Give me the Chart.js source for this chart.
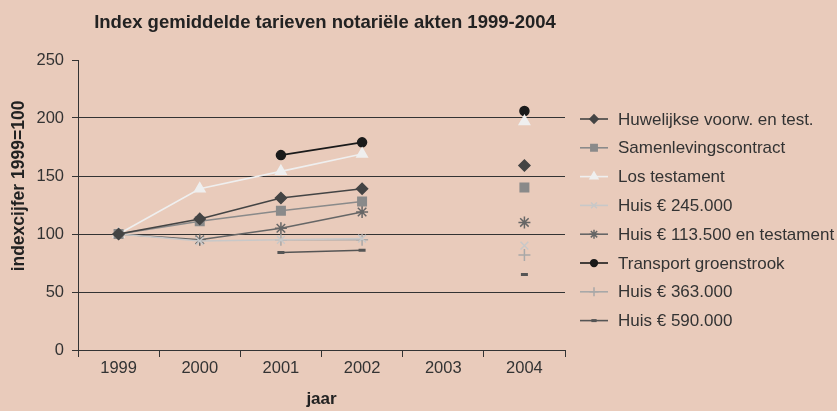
<html>
  <head>
    <title>Index notariële akten</title>
    <script type="text/javascript" src="https://cdn.jsdelivr.net/npm/chart.js@4.4.1/dist/chart.umd.min.js"></script>
    <style>
      body { margin: 0; background: #e9cbbb; }
    </style>
  </head>
  <body>
    <canvas id="IndexChart" width="837" height="411" style="display: block;"></canvas>
    <script>
      // jaren en indexcijfers (1999 = 100)
      var years = ['1999', '2000', '2001', '2002', '2003', '2004'];
      var huwelijkse = [100, 113, 131, 139, null, 159];
      var samenleving = [100, 111, 120, 128, null, 140];
      var losTestament = [100, 139, 154, 169, null, 197];
      var huis245 = [100, 94, 95, 96, null, 90];
      var huis113 = [100, 95, 105, 119, null, 110];
      var transport = [null, null, 168, 179, null, 206];
      var huis363 = [null, null, 95, 95, null, 82];
      var huis590 = [null, null, 84, 86, null, 65];
      var yTicks = [0, 50, 100, 150, 200, 250];

      var chartTitle = 'Index gemiddelde tarieven notariële akten 1999-2004';
      var yTitle = 'indexcijfer 1999=100';

      var textColor = '#333';
      var fontFamily = "'Liberation Sans', Arial, sans-serif";
      Chart.defaults.font.family = fontFamily;
      Chart.defaults.color = textColor;

      function serie(label, data, color, style, radius, extra) {
        var ds = {
          label: label,
          data: data,
          borderColor: color,
          backgroundColor: color,
          pointBackgroundColor: color,
          pointBorderColor: color,
          pointStyle: style,
          pointRadius: radius,
          pointHoverRadius: radius,
          pointBorderWidth: 1.5,
          borderWidth: 1.6,
          tension: 0
        };
        for (var k in extra) ds[k] = extra[k];
        return ds;
      }

      // background, title, y title and the legend with line + marker samples
      var paperPlugin = {
        id: 'paper',
        beforeDraw: function(chart) {
          var c = chart.ctx;
          c.save();
          c.fillStyle = '#e9cbbb';
          c.fillRect(0, 0, chart.width, chart.height);
          c.restore();
        },
        afterDraw: function(chart) {
          var c = chart.ctx;
          c.save();
          c.fillStyle = '#222';
          c.textAlign = 'center';
          c.textBaseline = 'middle';
          c.font = 'bold 18.5px ' + fontFamily;
          c.fillText(chartTitle, 325, 23);

          c.translate(19, 186);
          c.rotate(-Math.PI / 2);
          c.font = 'bold 17.5px ' + fontFamily;
          c.fillText(yTitle, 0, 0);
          c.restore();

          c.save();
          chart.data.datasets.forEach(function(ds, i) {
            var y = 119 + i * 28.8;
            c.strokeStyle = ds.borderColor;
            c.lineWidth = 1.6;
            c.beginPath();
            c.moveTo(580, y);
            c.lineTo(608, y);
            c.stroke();
            c.fillStyle = ds.pointBackgroundColor;
            c.strokeStyle = ds.pointBorderColor;
            c.lineWidth = ds.pointBorderWidth;
            Chart.helpers.drawPoint(c, {pointStyle: ds.pointStyle, radius: ds.pointRadius * 0.75, borderWidth: ds.pointBorderWidth, rotation: 0}, 594, y);
            c.fillStyle = textColor;
            c.font = '17px ' + fontFamily;
            c.textBaseline = 'middle';
            c.fillText(ds.label, 618, y + 1);
          });
          c.restore();
        }
      };

      var ctx = document.getElementById('IndexChart').getContext('2d');
      var chart = new Chart(ctx, {
        type: 'line',
        data: {
          labels: years,
          datasets: [
            serie('Huwelijkse voorw. en test.', huwelijkse, '#444444', 'rectRot', 5.5),
            serie('Samenlevingscontract', samenleving, '#8a8a8a', 'rect', 6),
            serie('Los testament', losTestament, '#efefef', 'triangle', 6),
            serie('Huis € 245.000', huis245, '#c8c8c8', 'crossRot', 5.5),
            serie('Huis € 113.500 en testament', huis113, '#666666', 'star', 6),
            serie('Transport groenstrook', transport, '#1a1a1a', 'circle', 4.5),
            serie('Huis € 363.000', huis363, '#a8a8a8', 'cross', 6),
            serie('Huis € 590.000', huis590, '#555555', 'line', 3.5, {pointBorderWidth: 3})
          ]
        },
        plugins: [paperPlugin],
        options: {
          responsive: false,
          animation: false,
          layout: {
            padding: { left: 0, right: 272, top: 60, bottom: 0 }
          },
          plugins: {
            legend: { display: false },
            tooltip: { enabled: false },
            title: { display: false }
          },
          scales: {
            x: {
              offset: true,
              grid: {
                offset: true,
                drawOnChartArea: false,
                drawTicks: true,
                tickLength: 7,
                color: '#333',
                lineWidth: 1
              },
              border: { color: '#333', width: 1 },
              ticks: { font: { size: 16.5 }, padding: 2, color: textColor },
              title: {
                display: true,
                text: 'jaar',
                color: '#222',
                font: { size: 17, weight: 'bold' },
                padding: { top: 4, bottom: 1 }
              },
              afterFit: function(scale) { scale.height = 61; }
            },
            y: {
              min: 0,
              max: 250,
              afterBuildTicks: function(scale) {
                scale.ticks = yTicks.map(function(v) { return {value: v}; });
              },
              grid: {
                color: function(c) { return c.tick && c.tick.value === 250 ? 'rgba(0,0,0,0)' : '#333'; },
                tickColor: '#333',
                tickLength: 6,
                lineWidth: 1
              },
              border: { color: '#333', width: 1 },
              ticks: { font: { size: 16.5 }, padding: 8, color: textColor },
              title: { display: false },
              afterFit: function(scale) { scale.width = 78; }
            }
          }
        }
      });
    </script>
  </body>
</html>
